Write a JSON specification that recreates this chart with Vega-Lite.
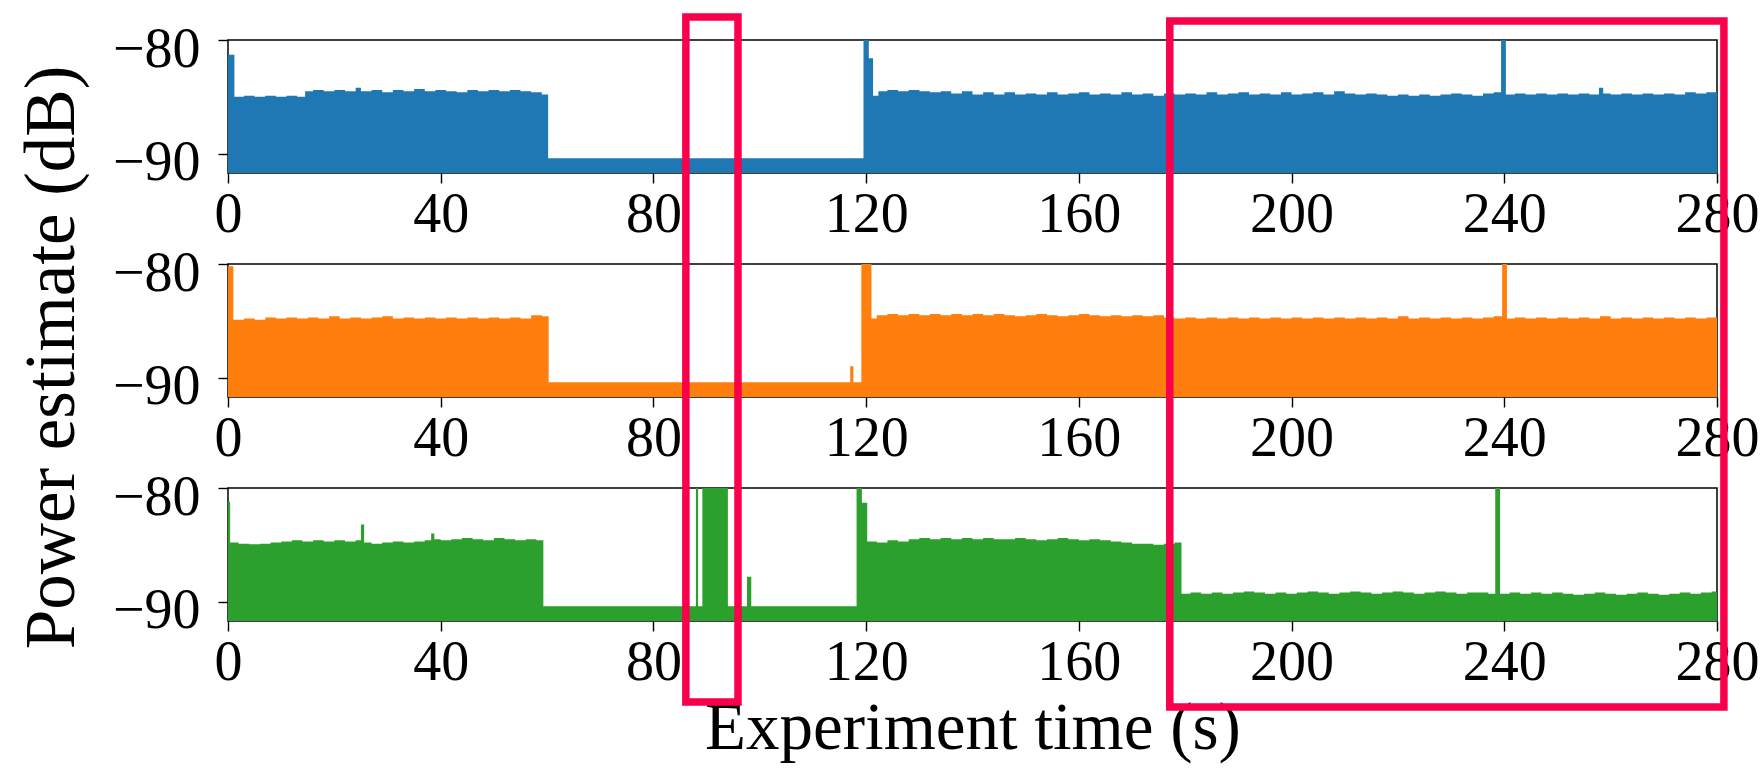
{
  "$schema": "https://vega.github.io/schema/vega-lite/v6.json",
  "padding": {"left": 15, "top": 12, "right": 2, "bottom": 2},
  "background": "white",
  "bounds": "flush",
  "spacing": 91,
  "config": {
    "font": "Liberation Serif",
    "view": {"stroke": "#000000", "strokeWidth": 1.5},
    "axis": {"grid": false, "domain": false, "tickColor": "#000000", "tickWidth": 1.4, "tickSize": 10,
      "labelFont": "Liberation Serif", "labelFontSize": 56, "labelColor": "#000000",
      "titleFont": "Liberation Serif", "titleFontSize": 67, "titleFontWeight": "normal", "titleColor": "#000000",
      "labelFlush": false, "labelOverlap": false, "labelBound": false},
    "axisX": {"labelPadding": 4, "titlePadding": 5},
    "axisY": {"labelPadding": 18, "labelOffset": 9, "titlePadding": 24}
  },
  "datasets": {
    "power": [
      {"s":"a","t":0,"v":-81.3},{"s":"a","t":1.2,"v":-85.0},{"s":"a","t":3,"v":-84.9},{"s":"a","t":5,"v":-85.0},{"s":"a","t":7,"v":-84.9},{"s":"a","t":9,"v":-85.0},{"s":"a","t":11,"v":-84.9},{"s":"a","t":13,"v":-85.0},{"s":"a","t":14.5,"v":-84.5},{"s":"a","t":16,"v":-84.4},{"s":"a","t":18,"v":-84.5},{"s":"a","t":20,"v":-84.4},{"s":"a","t":22,"v":-84.5},{"s":"a","t":24,"v":-84.2},{"s":"a","t":25,"v":-84.5},{"s":"a","t":27,"v":-84.4},{"s":"a","t":29,"v":-84.6},{"s":"a","t":31,"v":-84.4},{"s":"a","t":33,"v":-84.5},{"s":"a","t":35,"v":-84.3},{"s":"a","t":37,"v":-84.5},{"s":"a","t":39,"v":-84.4},{"s":"a","t":41,"v":-84.5},{"s":"a","t":43,"v":-84.6},{"s":"a","t":45,"v":-84.4},{"s":"a","t":47,"v":-84.5},{"s":"a","t":49,"v":-84.4},{"s":"a","t":51,"v":-84.5},{"s":"a","t":53,"v":-84.4},{"s":"a","t":55,"v":-84.5},{"s":"a","t":57,"v":-84.6},{"s":"a","t":59,"v":-84.8},{"s":"a","t":60.2,"v":-90.4},{"s":"a","t":119.5,"v":-80.0},{"s":"a","t":120.5,"v":-81.6},{"s":"a","t":121.3,"v":-84.9},{"s":"a","t":122.3,"v":-84.5},{"s":"a","t":124,"v":-84.4},{"s":"a","t":126,"v":-84.5},{"s":"a","t":128,"v":-84.4},{"s":"a","t":130,"v":-84.5},{"s":"a","t":132,"v":-84.6},{"s":"a","t":134,"v":-84.5},{"s":"a","t":136,"v":-84.7},{"s":"a","t":138,"v":-84.5},{"s":"a","t":140,"v":-84.8},{"s":"a","t":142,"v":-84.6},{"s":"a","t":144,"v":-84.8},{"s":"a","t":146,"v":-84.6},{"s":"a","t":148,"v":-84.8},{"s":"a","t":150,"v":-84.7},{"s":"a","t":152,"v":-84.8},{"s":"a","t":154,"v":-84.6},{"s":"a","t":156,"v":-84.8},{"s":"a","t":158,"v":-84.7},{"s":"a","t":160,"v":-84.6},{"s":"a","t":162,"v":-84.8},{"s":"a","t":164,"v":-84.7},{"s":"a","t":166,"v":-84.8},{"s":"a","t":168,"v":-84.6},{"s":"a","t":170,"v":-84.8},{"s":"a","t":172,"v":-84.7},{"s":"a","t":174,"v":-84.9},{"s":"a","t":176,"v":-84.7},{"s":"a","t":178,"v":-84.8},{"s":"a","t":180,"v":-84.7},{"s":"a","t":182,"v":-84.8},{"s":"a","t":184,"v":-84.6},{"s":"a","t":186,"v":-84.8},{"s":"a","t":188,"v":-84.7},{"s":"a","t":190,"v":-84.6},{"s":"a","t":192,"v":-84.8},{"s":"a","t":194,"v":-84.7},{"s":"a","t":196,"v":-84.8},{"s":"a","t":198,"v":-84.6},{"s":"a","t":200,"v":-84.8},{"s":"a","t":202,"v":-84.7},{"s":"a","t":204,"v":-84.6},{"s":"a","t":206,"v":-84.8},{"s":"a","t":208,"v":-84.5},{"s":"a","t":210,"v":-84.7},{"s":"a","t":212,"v":-84.8},{"s":"a","t":214,"v":-84.7},{"s":"a","t":216,"v":-84.8},{"s":"a","t":218,"v":-84.9},{"s":"a","t":220,"v":-84.8},{"s":"a","t":222,"v":-84.9},{"s":"a","t":224,"v":-84.8},{"s":"a","t":226,"v":-84.9},{"s":"a","t":228,"v":-84.8},{"s":"a","t":230,"v":-84.7},{"s":"a","t":232,"v":-84.8},{"s":"a","t":234,"v":-84.9},{"s":"a","t":236,"v":-84.7},{"s":"a","t":238,"v":-84.6},{"s":"a","t":239.4,"v":-80.0},{"s":"a","t":240.3,"v":-84.8},{"s":"a","t":242,"v":-84.7},{"s":"a","t":244,"v":-84.8},{"s":"a","t":246,"v":-84.7},{"s":"a","t":248,"v":-84.8},{"s":"a","t":250,"v":-84.7},{"s":"a","t":252,"v":-84.8},{"s":"a","t":254,"v":-84.7},{"s":"a","t":256,"v":-84.8},{"s":"a","t":257.8,"v":-84.2},{"s":"a","t":258.6,"v":-84.7},{"s":"a","t":260,"v":-84.8},{"s":"a","t":262,"v":-84.7},{"s":"a","t":264,"v":-84.8},{"s":"a","t":266,"v":-84.7},{"s":"a","t":268,"v":-84.8},{"s":"a","t":270,"v":-84.7},{"s":"a","t":272,"v":-84.8},{"s":"a","t":274,"v":-84.6},{"s":"a","t":276,"v":-84.7},{"s":"a","t":278,"v":-84.6},{"s":"a","t":280,"v":-84.7},
      {"s":"b","t":0,"v":-80.2},{"s":"b","t":1,"v":-84.9},{"s":"b","t":3,"v":-84.8},{"s":"b","t":5,"v":-84.9},{"s":"b","t":7,"v":-84.7},{"s":"b","t":9,"v":-84.8},{"s":"b","t":11,"v":-84.7},{"s":"b","t":13,"v":-84.8},{"s":"b","t":15,"v":-84.7},{"s":"b","t":17,"v":-84.8},{"s":"b","t":19,"v":-84.6},{"s":"b","t":21,"v":-84.8},{"s":"b","t":23,"v":-84.7},{"s":"b","t":25,"v":-84.8},{"s":"b","t":27,"v":-84.7},{"s":"b","t":29,"v":-84.6},{"s":"b","t":31,"v":-84.8},{"s":"b","t":33,"v":-84.7},{"s":"b","t":35,"v":-84.8},{"s":"b","t":37,"v":-84.7},{"s":"b","t":39,"v":-84.8},{"s":"b","t":41,"v":-84.7},{"s":"b","t":43,"v":-84.8},{"s":"b","t":45,"v":-84.7},{"s":"b","t":47,"v":-84.8},{"s":"b","t":49,"v":-84.7},{"s":"b","t":51,"v":-84.8},{"s":"b","t":53,"v":-84.7},{"s":"b","t":55,"v":-84.8},{"s":"b","t":57,"v":-84.5},{"s":"b","t":59,"v":-84.6},{"s":"b","t":60.3,"v":-90.4},{"s":"b","t":117.0,"v":-89.0},{"s":"b","t":117.6,"v":-90.4},{"s":"b","t":119.1,"v":-80.0},{"s":"b","t":121.0,"v":-84.8},{"s":"b","t":122,"v":-84.5},{"s":"b","t":124,"v":-84.4},{"s":"b","t":126,"v":-84.5},{"s":"b","t":128,"v":-84.4},{"s":"b","t":130,"v":-84.5},{"s":"b","t":132,"v":-84.4},{"s":"b","t":134,"v":-84.5},{"s":"b","t":136,"v":-84.4},{"s":"b","t":138,"v":-84.5},{"s":"b","t":140,"v":-84.4},{"s":"b","t":142,"v":-84.5},{"s":"b","t":144,"v":-84.4},{"s":"b","t":146,"v":-84.5},{"s":"b","t":148,"v":-84.6},{"s":"b","t":150,"v":-84.5},{"s":"b","t":152,"v":-84.4},{"s":"b","t":154,"v":-84.5},{"s":"b","t":156,"v":-84.6},{"s":"b","t":158,"v":-84.5},{"s":"b","t":160,"v":-84.4},{"s":"b","t":162,"v":-84.5},{"s":"b","t":164,"v":-84.6},{"s":"b","t":166,"v":-84.5},{"s":"b","t":168,"v":-84.6},{"s":"b","t":170,"v":-84.5},{"s":"b","t":172,"v":-84.6},{"s":"b","t":174,"v":-84.5},{"s":"b","t":176,"v":-84.7},{"s":"b","t":178,"v":-84.8},{"s":"b","t":180,"v":-84.7},{"s":"b","t":182,"v":-84.8},{"s":"b","t":184,"v":-84.7},{"s":"b","t":186,"v":-84.8},{"s":"b","t":188,"v":-84.7},{"s":"b","t":190,"v":-84.8},{"s":"b","t":192,"v":-84.7},{"s":"b","t":194,"v":-84.8},{"s":"b","t":196,"v":-84.7},{"s":"b","t":198,"v":-84.8},{"s":"b","t":200,"v":-84.7},{"s":"b","t":202,"v":-84.8},{"s":"b","t":204,"v":-84.7},{"s":"b","t":206,"v":-84.8},{"s":"b","t":208,"v":-84.7},{"s":"b","t":210,"v":-84.8},{"s":"b","t":212,"v":-84.7},{"s":"b","t":214,"v":-84.8},{"s":"b","t":216,"v":-84.7},{"s":"b","t":218,"v":-84.8},{"s":"b","t":220,"v":-84.6},{"s":"b","t":222,"v":-84.8},{"s":"b","t":224,"v":-84.7},{"s":"b","t":226,"v":-84.8},{"s":"b","t":228,"v":-84.7},{"s":"b","t":230,"v":-84.8},{"s":"b","t":232,"v":-84.7},{"s":"b","t":234,"v":-84.8},{"s":"b","t":236,"v":-84.7},{"s":"b","t":238,"v":-84.6},{"s":"b","t":239.6,"v":-80.0},{"s":"b","t":240.5,"v":-84.8},{"s":"b","t":242,"v":-84.7},{"s":"b","t":244,"v":-84.8},{"s":"b","t":246,"v":-84.7},{"s":"b","t":248,"v":-84.8},{"s":"b","t":250,"v":-84.7},{"s":"b","t":252,"v":-84.8},{"s":"b","t":254,"v":-84.7},{"s":"b","t":256,"v":-84.8},{"s":"b","t":258,"v":-84.6},{"s":"b","t":260,"v":-84.8},{"s":"b","t":262,"v":-84.7},{"s":"b","t":264,"v":-84.8},{"s":"b","t":266,"v":-84.7},{"s":"b","t":268,"v":-84.8},{"s":"b","t":270,"v":-84.7},{"s":"b","t":272,"v":-84.8},{"s":"b","t":274,"v":-84.7},{"s":"b","t":276,"v":-84.8},{"s":"b","t":278,"v":-84.7},{"s":"b","t":280,"v":-84.8},
      {"s":"c","t":0,"v":-81.2},{"s":"c","t":0.4,"v":-84.8},{"s":"c","t":2,"v":-84.9},{"s":"c","t":4,"v":-84.95},{"s":"c","t":6,"v":-84.9},{"s":"c","t":8,"v":-84.8},{"s":"c","t":10,"v":-84.7},{"s":"c","t":12,"v":-84.6},{"s":"c","t":14,"v":-84.7},{"s":"c","t":16,"v":-84.6},{"s":"c","t":18,"v":-84.7},{"s":"c","t":20,"v":-84.6},{"s":"c","t":22,"v":-84.7},{"s":"c","t":24,"v":-84.6},{"s":"c","t":25.0,"v":-83.2},{"s":"c","t":25.6,"v":-84.8},{"s":"c","t":27,"v":-84.9},{"s":"c","t":29,"v":-84.8},{"s":"c","t":31,"v":-84.7},{"s":"c","t":33,"v":-84.8},{"s":"c","t":35,"v":-84.7},{"s":"c","t":37,"v":-84.6},{"s":"c","t":38.2,"v":-84.0},{"s":"c","t":38.8,"v":-84.5},{"s":"c","t":40,"v":-84.6},{"s":"c","t":42,"v":-84.5},{"s":"c","t":44,"v":-84.4},{"s":"c","t":46,"v":-84.5},{"s":"c","t":48,"v":-84.6},{"s":"c","t":50,"v":-84.4},{"s":"c","t":52,"v":-84.5},{"s":"c","t":54,"v":-84.6},{"s":"c","t":56,"v":-84.5},{"s":"c","t":58,"v":-84.6},{"s":"c","t":59.3,"v":-90.4},{"s":"c","t":88.0,"v":-80.0},{"s":"c","t":88.4,"v":-90.4},{"s":"c","t":89.2,"v":-80.0},{"s":"c","t":94.0,"v":-90.4},{"s":"c","t":97.6,"v":-87.8},{"s":"c","t":98.4,"v":-90.4},{"s":"c","t":118.2,"v":-80.0},{"s":"c","t":119.2,"v":-81.3},{"s":"c","t":120.2,"v":-84.7},{"s":"c","t":122,"v":-84.8},{"s":"c","t":124,"v":-84.6},{"s":"c","t":126,"v":-84.7},{"s":"c","t":128,"v":-84.5},{"s":"c","t":130,"v":-84.4},{"s":"c","t":132,"v":-84.5},{"s":"c","t":134,"v":-84.4},{"s":"c","t":136,"v":-84.5},{"s":"c","t":138,"v":-84.4},{"s":"c","t":140,"v":-84.5},{"s":"c","t":142,"v":-84.4},{"s":"c","t":144,"v":-84.5},{"s":"c","t":146,"v":-84.5},{"s":"c","t":148,"v":-84.4},{"s":"c","t":150,"v":-84.5},{"s":"c","t":152,"v":-84.6},{"s":"c","t":154,"v":-84.5},{"s":"c","t":156,"v":-84.4},{"s":"c","t":158,"v":-84.5},{"s":"c","t":160,"v":-84.6},{"s":"c","t":162,"v":-84.5},{"s":"c","t":164,"v":-84.6},{"s":"c","t":166,"v":-84.7},{"s":"c","t":168,"v":-84.8},{"s":"c","t":170,"v":-84.9},{"s":"c","t":172,"v":-84.9},{"s":"c","t":174,"v":-85.0},{"s":"c","t":176,"v":-84.9},{"s":"c","t":178,"v":-84.8},{"s":"c","t":179.3,"v":-89.3},{"s":"c","t":181,"v":-89.2},{"s":"c","t":183,"v":-89.3},{"s":"c","t":185,"v":-89.2},{"s":"c","t":187,"v":-89.3},{"s":"c","t":189,"v":-89.2},{"s":"c","t":191,"v":-89.1},{"s":"c","t":193,"v":-89.2},{"s":"c","t":195,"v":-89.3},{"s":"c","t":197,"v":-89.2},{"s":"c","t":199,"v":-89.3},{"s":"c","t":201,"v":-89.2},{"s":"c","t":203,"v":-89.1},{"s":"c","t":205,"v":-89.2},{"s":"c","t":207,"v":-89.3},{"s":"c","t":209,"v":-89.2},{"s":"c","t":211,"v":-89.1},{"s":"c","t":213,"v":-89.2},{"s":"c","t":215,"v":-89.3},{"s":"c","t":217,"v":-89.2},{"s":"c","t":219,"v":-89.1},{"s":"c","t":221,"v":-89.2},{"s":"c","t":223,"v":-89.3},{"s":"c","t":225,"v":-89.2},{"s":"c","t":227,"v":-89.1},{"s":"c","t":229,"v":-89.2},{"s":"c","t":231,"v":-89.3},{"s":"c","t":233,"v":-89.2},{"s":"c","t":235,"v":-89.2},{"s":"c","t":237,"v":-89.3},{"s":"c","t":238.3,"v":-80.0},{"s":"c","t":239.2,"v":-89.3},{"s":"c","t":241,"v":-89.2},{"s":"c","t":243,"v":-89.3},{"s":"c","t":245,"v":-89.2},{"s":"c","t":247,"v":-89.3},{"s":"c","t":249,"v":-89.2},{"s":"c","t":251,"v":-89.3},{"s":"c","t":253,"v":-89.4},{"s":"c","t":255,"v":-89.3},{"s":"c","t":257,"v":-89.2},{"s":"c","t":259,"v":-89.3},{"s":"c","t":261,"v":-89.4},{"s":"c","t":263,"v":-89.3},{"s":"c","t":265,"v":-89.2},{"s":"c","t":267,"v":-89.3},{"s":"c","t":269,"v":-89.4},{"s":"c","t":271,"v":-89.3},{"s":"c","t":273,"v":-89.2},{"s":"c","t":275,"v":-89.3},{"s":"c","t":277,"v":-89.2},{"s":"c","t":279,"v":-89.1},{"s":"c","t":280,"v":-89.2}
    ],
    "boxes": [
      {"t0": 86.1, "t1": 95.9, "top": -38.57, "bottom": -98.82},
      {"t0": 177.1, "t1": 281.3, "top": -38.92, "bottom": -99.26}
    ]
  },
  "vconcat": [
    {
      "width": 1489, "height": 133,
      "data": {"name": "power"},
      "transform": [{"filter": "datum.s === 'a'"}],
      "mark": {"type": "area", "interpolate": "step-after", "orient": "vertical", "color": "#1f77b4"},
      "encoding": {
        "x": {"field": "t", "type": "quantitative", "scale": {"domain": [0, 280], "nice": false, "zero": false}, "axis": {"title": null, "values": [0, 40, 80, 120, 160, 200, 240, 280], "format": "d"}},
        "y": {"field": "v", "type": "quantitative", "scale": {"domain": [-91.7, -80], "nice": false, "zero": false}, "axis": {"title": null, "values": [-90, -80], "format": "d"}},
        "y2": {"datum": -91.7}
      }
    },
    {
      "width": 1489, "height": 133,
      "data": {"name": "power"},
      "transform": [{"filter": "datum.s === 'b'"}],
      "mark": {"type": "area", "interpolate": "step-after", "orient": "vertical", "color": "#ff7f0e"},
      "encoding": {
        "x": {"field": "t", "type": "quantitative", "scale": {"domain": [0, 280], "nice": false, "zero": false}, "axis": {"title": null, "values": [0, 40, 80, 120, 160, 200, 240, 280], "format": "d"}},
        "y": {"field": "v", "type": "quantitative", "scale": {"domain": [-91.7, -80], "nice": false, "zero": false}, "axis": {"title": "Power estimate (dB)", "titleFontSize": 71, "titleY": 93, "values": [-90, -80], "format": "d"}},
        "y2": {"datum": -91.7}
      }
    },
    {
      "width": 1489, "height": 133,
      "layer": [
        {
          "data": {"name": "power"},
          "transform": [{"filter": "datum.s === 'c'"}],
          "mark": {"type": "area", "interpolate": "step-after", "orient": "vertical", "color": "#2ca02c"},
          "encoding": {
            "x": {"field": "t", "type": "quantitative", "scale": {"domain": [0, 280], "nice": false, "zero": false}, "axis": {"title": "Experiment time (s)", "values": [0, 40, 80, 120, 160, 200, 240, 280], "format": "d"}},
            "y": {"field": "v", "type": "quantitative", "scale": {"domain": [-91.7, -80], "nice": false, "zero": false}, "axis": {"title": null, "values": [-90, -80], "format": "d"}},
            "y2": {"datum": -91.7}
          }
        },
        {
          "data": {"name": "boxes"},
          "mark": {"type": "rect", "filled": false, "stroke": "#f8004a", "strokeWidth": 7.5},
          "encoding": {
            "x": {"field": "t0", "type": "quantitative", "scale": {"domain": [0, 280], "nice": false, "zero": false}},
            "x2": {"field": "t1"},
            "y": {"field": "top", "type": "quantitative", "scale": {"domain": [-91.7, -80], "nice": false, "zero": false}},
            "y2": {"field": "bottom"}
          }
        }
      ]
    }
  ]
}
